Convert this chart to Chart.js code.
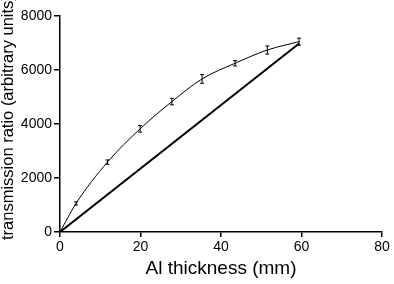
<!DOCTYPE html>
<html>
<head>
<meta charset="utf-8">
<script src="https://cdn.jsdelivr.net/npm/chart.js@4"></script>
<style>
  html, body { margin: 0; padding: 0; background: #fff; }
  #chart { display: block; }
</style>
</head>
<body>
<canvas id="chart" width="394" height="284"></canvas>
<script>
// measured points (Al thickness in mm, transmission ratio)
const thickness = [4.0, 11.8, 19.9, 27.8, 35.3, 43.5, 51.5, 59.4];
const ratio = [1060, 2590, 3820, 4830, 5670, 6250, 6740, 7050];
const ratioErr = [60, 80, 120, 120, 160, 100, 150, 130];

// fitted curve starts at origin and goes through the points
const fitX = [0, ...thickness];
const fitY = [0, ...ratio];

// straight reference line
const lineX = [0, 59.4];
const lineY = [0, 6980];

const xTicks = [0, 20, 40, 60, 80];
const yTicks = [0, 2000, 4000, 6000, 8000];

const xTitle = "Al thickness (mm)";
const yTitle = "transmission ratio (arbitrary units)";

const FONT = "'Liberation Sans', Arial, Helvetica, sans-serif";

function toPoints(xs, ys) {
  return xs.map((x, i) => ({ x: x, y: ys[i] }));
}

// error bars on the measured points
const errorBars = {
  id: "errorBars",
  afterDatasetsDraw(chart) {
    const ctx = chart.ctx;
    const xs = chart.scales.x;
    const ys = chart.scales.y;
    ctx.save();
    ctx.strokeStyle = "#000";
    ctx.lineWidth = 1;
    thickness.forEach((t, i) => {
      const px = xs.getPixelForValue(t);
      const top = ys.getPixelForValue(ratio[i] + ratioErr[i]);
      const bot = ys.getPixelForValue(ratio[i] - ratioErr[i]);
      ctx.beginPath();
      ctx.moveTo(px, top);
      ctx.lineTo(px, bot);
      ctx.moveTo(px - 2, top);
      ctx.lineTo(px + 2, top);
      ctx.moveTo(px - 2, bot);
      ctx.lineTo(px + 2, bot);
      ctx.stroke();
    });
    ctx.restore();
  }
};

// axis titles drawn where the original has them (y title sits off-centre)
const axisTitles = {
  id: "axisTitles",
  afterDraw(chart) {
    const ctx = chart.ctx;
    const area = chart.chartArea;
    ctx.save();
    ctx.fillStyle = "#000";
    ctx.font = "19px " + FONT;
    ctx.textAlign = "center";
    ctx.textBaseline = "alphabetic";
    ctx.fillText(xTitle, (area.left + area.right) / 2, 274);

    ctx.font = "16.5px " + FONT;
    ctx.translate(13, 240);
    ctx.rotate(-Math.PI / 2);
    ctx.textAlign = "left";
    ctx.fillText(yTitle, 0, 0);
    ctx.restore();
  }
};

new Chart(document.getElementById("chart"), {
  type: "line",
  data: {
    datasets: [
      {
        label: "fit",
        data: toPoints(fitX, fitY),
        borderColor: "#000",
        borderWidth: 1,
        pointRadius: 0,
        cubicInterpolationMode: "monotone",
        fill: false
      },
      {
        label: "linear",
        data: toPoints(lineX, lineY),
        borderColor: "#000",
        borderWidth: 2,
        pointRadius: 0,
        tension: 0,
        fill: false
      }
    ]
  },
  options: {
    responsive: false,
    animation: false,
    devicePixelRatio: 1,
    layout: { padding: { top: 16, right: 12, left: 0, bottom: 0 } },
    plugins: {
      legend: { display: false },
      tooltip: { enabled: false }
    },
    scales: {
      x: {
        type: "linear",
        min: 0,
        max: 80,
        afterBuildTicks(axis) { axis.ticks = xTicks.map(v => ({ value: v })); },
        afterFit(axis) { axis.height = 52; },
        ticks: { color: "#000", font: { family: FONT, size: 14 }, padding: 2, maxRotation: 0, callback: v => String(v) },
        grid: { display: true, drawOnChartArea: false, drawTicks: true, tickLength: 5, color: "#000", lineWidth: 1.5 },
        border: { display: true, color: "#000", width: 1.5 }
      },
      y: {
        type: "linear",
        min: 0,
        max: 8000,
        afterBuildTicks(axis) { axis.ticks = yTicks.map(v => ({ value: v })); },
        afterFit(axis) { axis.width = 60; },
        ticks: { color: "#000", font: { family: FONT, size: 14 }, padding: 2, callback: v => String(v) },
        grid: { display: true, drawOnChartArea: false, drawTicks: true, tickLength: 6, color: "#000", lineWidth: 1.5 },
        border: { display: true, color: "#000", width: 1.5 }
      }
    }
  },
  plugins: [errorBars, axisTitles]
});
</script>
</body>
</html>
